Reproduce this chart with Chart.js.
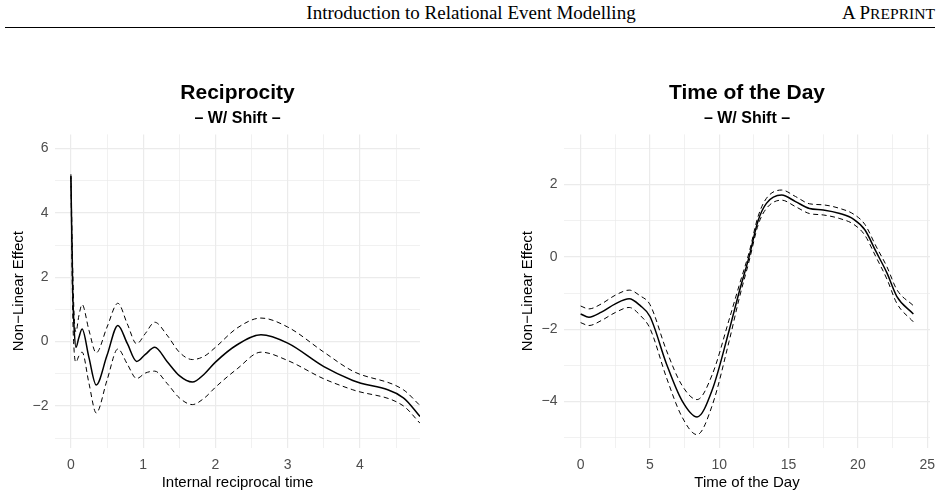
<!DOCTYPE html>
<html>
<head>
<meta charset="utf-8">
<script src="https://cdn.jsdelivr.net/npm/chart.js@4.4.1/dist/chart.umd.min.js"></script>
<style>
  body { margin: 0; background: #fff; width: 948px; height: 498px; overflow: hidden; position: relative; }
  .head-title { position: absolute; top: 2px; left: 0; width: 942px; text-align: center;
    font-family: "Liberation Serif", serif; font-size: 19px; color: #000; }
  .head-tag { position: absolute; top: 2px; right: 13px;
    font-family: "Liberation Serif", serif; font-size: 19px; color: #000; }
  .head-tag span { font-size: 0.82em; }
  .rule { position: absolute; top: 27px; left: 5px; width: 930px; height: 1px; background: #000; }
  .panel { position: absolute; top: 60px; width: 474px; height: 438px; }
</style>
</head>
<body>
<div class="head-title">Introduction to Relational Event Modelling</div>
<div class="head-tag">A P<span>REPRINT</span></div>
<div class="rule"></div>
<div class="panel" style="left:0"><canvas id="recChart" width="474" height="438"></canvas></div>
<div class="panel" style="left:474px"><canvas id="dayChart" width="474" height="438"></canvas></div>
<script>
// reciprocity effect (estimate, upper and lower band)
const recTime = [0, 0.025, 0.045, 0.07, 0.11, 0.155, 0.25, 0.35, 0.5, 0.65, 0.78, 0.91, 1.03, 1.16, 1.33, 1.5, 1.68, 1.85, 2.0, 2.3, 2.63, 3.0, 3.5, 3.9, 4.6, 4.83];
const recFit = [5.15, 1.6, 0.4, -0.18, 0.12, 0.39, -0.5, -1.35, -0.43, 0.5, -0.06, -0.62, -0.4, -0.18, -0.62, -1.06, -1.26, -1.0, -0.64, -0.1, 0.21, -0.05, -0.78, -1.21, -1.75, -2.33];
const recUpper = [5.2, 2.3, 0.8, 0.3, 0.8, 1.15, 0.35, -0.35, 0.45, 1.19, 0.55, -0.07, 0.25, 0.6, 0.2, -0.33, -0.56, -0.45, -0.18, 0.42, 0.73, 0.45, -0.33, -0.92, -1.5, -1.99];
const recLower = [5.1, 0.9, -0.3, -0.64, -0.45, -0.33, -1.3, -2.22, -1.2, -0.23, -0.7, -1.15, -0.98, -0.92, -1.3, -1.75, -1.96, -1.75, -1.42, -0.85, -0.33, -0.59, -1.16, -1.5, -2.0, -2.54];

// time of the day effect
const dayHour = [0, 0.6, 1.5, 2.5, 3.5, 4.3, 5.0, 6.2, 7.3, 8.4, 9.5, 10.7, 11.45, 12.15, 12.8, 13.4, 14.5, 15.5, 16.5, 17.5, 18.7, 19.7, 20.5, 21.3, 22.1, 22.8, 24];
const dayFit = [-1.58, -1.67, -1.53, -1.30, -1.16, -1.35, -1.65, -2.97, -3.97, -4.43, -3.67, -2.05, -0.95, 0.0, 1.0, 1.48, 1.71, 1.53, 1.34, 1.30, 1.20, 1.04, 0.75, 0.15, -0.45, -1.09, -1.58];
const dayUpper = [-1.36, -1.44, -1.30, -1.06, -0.92, -1.08, -1.32, -2.6, -3.55, -3.95, -3.25, -1.75, -0.77, 0.12, 1.12, 1.62, 1.85, 1.67, 1.47, 1.44, 1.34, 1.18, 0.9, 0.3, -0.28, -0.9, -1.35];
const dayLower = [-1.82, -1.90, -1.76, -1.54, -1.40, -1.62, -1.98, -3.35, -4.42, -4.92, -4.1, -2.35, -1.13, -0.12, 0.88, 1.34, 1.57, 1.39, 1.2, 1.16, 1.06, 0.9, 0.6, 0.0, -0.62, -1.28, -1.8];

Chart.defaults.font.family = '"Liberation Sans", Arial, sans-serif';
Chart.defaults.devicePixelRatio = 1;

function toPoints(xs, ys) {
    return xs.map((x, i) => ({x: x, y: ys[i]}));
}

function minusSign(v) {
    return String(v).replace('-', '\u2212');
}

function lineSet(xs, ys, dashed) {
    return {
        data: toPoints(xs, ys),
        borderColor: '#000',
        borderWidth: dashed ? 1 : 1.5,
        borderDash: dashed ? [5, 3.5] : [],
        pointRadius: 0,
        fill: false,
        cubicInterpolationMode: 'monotone'
    };
}

function gridWidth(every) {
    return function(ctx) {
        const v = ctx.tick ? ctx.tick.value : 0;
        return Math.abs(v / every - Math.round(v / every)) < 1e-6 ? 1.2 : 0.7;
    };
}

function makeChart(id, opts) {
    const config = {
        type: 'line',
        data: {
            datasets: [
                lineSet(opts.xs, opts.fit, false),
                lineSet(opts.xs, opts.upper, true),
                lineSet(opts.xs, opts.lower, true)
            ]
        },
        options: {
            responsive: false,
            animation: false,
            layout: { padding: { left: opts.padLeft, right: opts.padRight, top: 0, bottom: 0 } },
            plugins: {
                legend: { display: false },
                tooltip: { enabled: false },
                title: {
                    display: true, text: opts.title, color: '#000', fullSize: false,
                    font: { size: 21, weight: 'bold' },
                    padding: { top: 20.5, bottom: 0 }
                },
                subtitle: {
                    display: true, text: '\u2013 W/ Shift \u2013', color: '#000', fullSize: false,
                    font: { size: 16, weight: 'bold' },
                    padding: { top: 3, bottom: 6.5 }
                }
            },
            scales: {
                x: {
                    type: 'linear',
                    min: opts.xMin, max: opts.xMax,
                    afterFit: (scale) => { scale.height = 50; },
                    border: { display: false },
                    grid: { color: '#ebebeb', drawTicks: false, lineWidth: gridWidth(opts.xLabelEvery) },
                    ticks: {
                        stepSize: opts.xStep, autoSkip: false, includeBounds: false, maxRotation: 0,
                        color: '#4d4d4d', font: { size: 14 }, padding: 9,
                        callback: (v) => Math.abs(v / opts.xLabelEvery - Math.round(v / opts.xLabelEvery)) < 1e-6 ? minusSign(v) : ''
                    },
                    title: { display: true, text: opts.xTitle, color: '#000', font: { size: 15 }, padding: { top: 0, bottom: 6 } }
                },
                y: {
                    type: 'linear',
                    min: opts.yMin, max: opts.yMax,
                    afterFit: (scale) => { scale.width = 55; },
                    border: { display: false },
                    grid: { color: '#ebebeb', drawTicks: false, lineWidth: gridWidth(2) },
                    ticks: {
                        stepSize: 1, autoSkip: false, includeBounds: false,
                        color: '#4d4d4d', font: { size: 14 }, padding: 6.5,
                        callback: (v) => v % 2 === 0 ? minusSign(v) : ''
                    },
                    title: { display: true, text: 'Non\u2212Linear Effect', color: '#000', font: { size: 15 }, padding: { top: 10, bottom: 0 } }
                }
            }
        }
    };
    return new Chart(document.getElementById(id), config);
}

makeChart('recChart', {
    xs: recTime, fit: recFit, upper: recUpper, lower: recLower,
    title: 'Reciprocity', xTitle: 'Internal reciprocal time',
    xMin: -0.22, xMax: 4.83, xStep: 0.5, xLabelEvery: 1,
    yMin: -3.31, yMax: 6.44,
    padLeft: 0, padRight: 54
});

makeChart('dayChart', {
    xs: dayHour, fit: dayFit, upper: dayUpper, lower: dayLower,
    title: 'Time of the Day', xTitle: 'Time of the Day',
    xMin: -1.2, xMax: 25.2, xStep: 2.5, xLabelEvery: 5,
    yMin: -5.29, yMax: 3.39,
    padLeft: 35, padRight: 18
});
</script>
</body>
</html>
